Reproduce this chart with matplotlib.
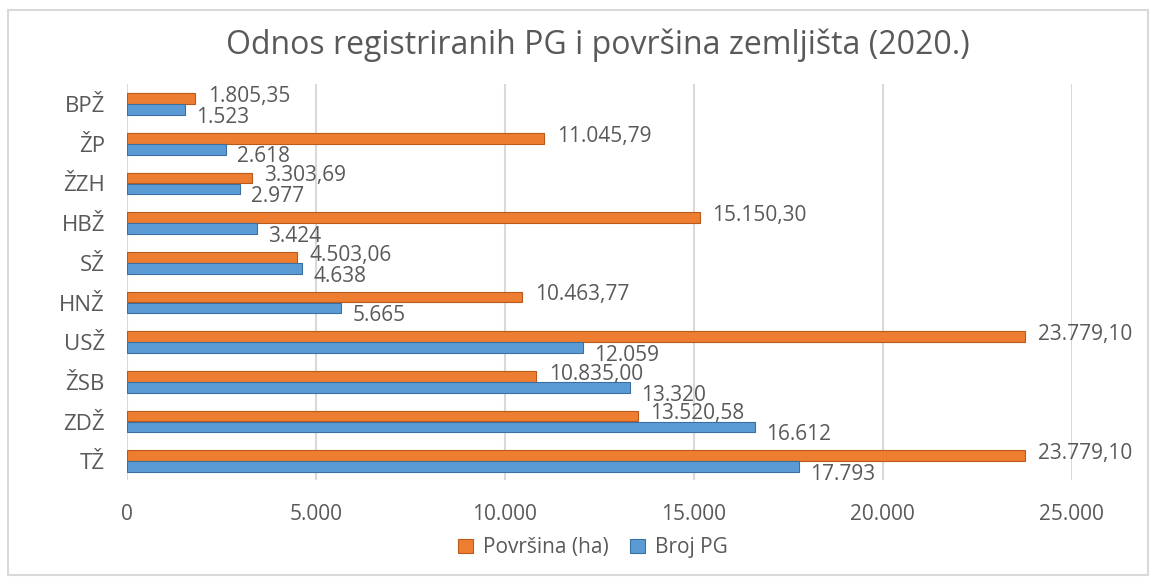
import numpy as np
import matplotlib
matplotlib.use("Agg")
import matplotlib.pyplot as plt
from matplotlib.patches import Rectangle

# data (bottom to top as drawn)
zupanije = ["TŽ", "ZDŽ", "ŽSB", "USŽ", "HNŽ", "SŽ", "HBŽ", "ŽZH", "ŽP", "BPŽ"]
povrsina_ha = [23779.10, 13520.58, 10835.00, 23779.10, 10463.77, 4503.06, 15150.30, 3303.69, 11045.79, 1805.35]
broj_pg = [17793, 16612, 13320, 12059, 5665, 4638, 3424, 2977, 2618, 1523]
x_ticks = [0, 5000, 10000, 15000, 20000, 25000]

ORANGE = "#ED7D31"
BLUE = "#5B9BD5"
TEXT = "#595959"


def hr_format(v, decimals=0):
    # croatian style: 1.234,56
    s = f"{v:,.{decimals}f}"
    return s.replace(",", "X").replace(".", ",").replace("X", ".")


plt.rcParams["font.family"] = ["Open Sans", "DejaVu Sans"]

fig = plt.figure(figsize=(11.56, 5.81), dpi=100)
ax = fig.add_axes([0.110, 0.174, 0.817, 0.681])

y = np.arange(len(zupanije))
h = 0.27
off = 0.14

ax.barh(y + off, povrsina_ha, height=h, color=ORANGE, edgecolor="#B85A1B",
        linewidth=0.8, label="Površina (ha)", zorder=3)
ax.barh(y - off, broj_pg, height=h, color=BLUE, edgecolor="#3A6F9F",
        linewidth=0.8, label="Broj PG", zorder=3)

for yi, v in zip(y, povrsina_ha):
    ax.annotate(hr_format(v, 2), (v, yi + off), xytext=(9, 1.5), textcoords="offset points",
                ha="left", va="center", fontsize=15, color=TEXT, zorder=4)
for yi, v in zip(y, broj_pg):
    ax.annotate(hr_format(v), (v, yi - off), xytext=(8, -5.5), textcoords="offset points",
                ha="left", va="center", fontsize=15, color=TEXT, zorder=4)

ax.set_xlim(0, 25000)
ax.set_ylim(-0.47, 9.5)
ax.set_xticks(x_ticks)
ax.set_xticklabels([hr_format(t) for t in x_ticks])
ax.set_yticks(y)
ax.set_yticklabels(zupanije)
ax.tick_params(axis="x", length=0, pad=17, labelsize=15, colors=TEXT)
ax.tick_params(axis="y", length=0, pad=16, labelsize=16, colors=TEXT)
ax.grid(axis="x", color="#D9D9D9", linewidth=1.5, zorder=0)
for sp in ax.spines.values():
    sp.set_visible(False)

fig.text(0.517, 0.922, "Odnos registriranih PG i površina zemljišta (2020.)",
         ha="center", va="center", fontsize=23, color=TEXT)

handles, labels = ax.get_legend_handles_labels()
fig.legend(handles, labels, loc="center", bbox_to_anchor=(0.513, 0.057), ncol=2,
           frameon=False, fontsize=15, labelcolor=TEXT, handlelength=0.7,
           handleheight=0.7, columnspacing=1.0, handletextpad=0.5)

# chart border
fig.patches.append(Rectangle((0.007, 0.01), 0.986, 0.972, transform=fig.transFigure,
                             fill=False, edgecolor="#D9D9D9", linewidth=1.5))

fig.savefig("out.png", dpi=100)
